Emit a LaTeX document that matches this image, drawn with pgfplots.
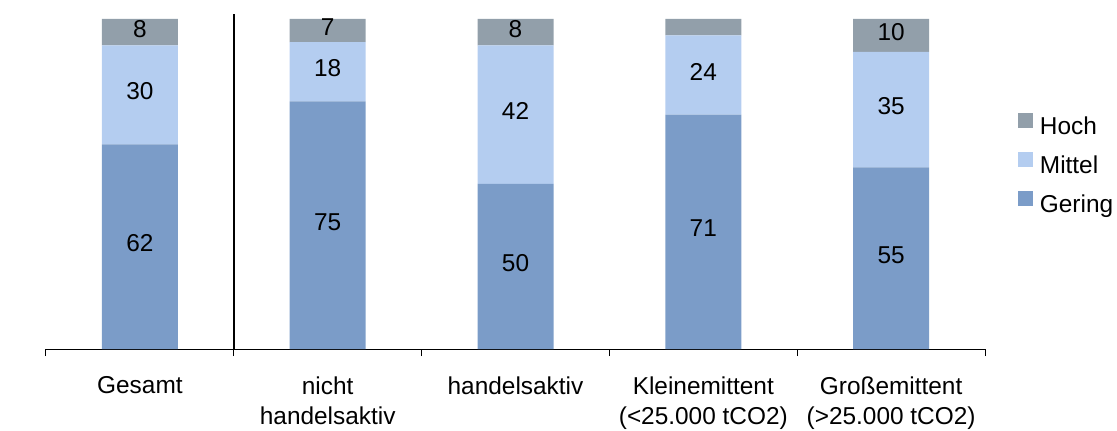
\documentclass[border=0pt]{standalone}
\usepackage{fontspec}
\setmainfont{Liberation Sans}
\usepackage{pgfplots}
\pgfplotsset{compat=1.18}
\definecolor{gering}{HTML}{7B9CC8}
\definecolor{mittel}{HTML}{B4CDF0}
\definecolor{hoch}{HTML}{929FAA}
\newcommand{\chartfont}{\fontsize{18.3}{22.5}\selectfont}
\begin{document}
\begin{tikzpicture}
\useasboundingbox (-34.5pt,-60.75pt) rectangle (803.25pt,261.75pt);
\begin{axis}[
  at={(0pt,0pt)}, anchor=south west,
  scale only axis, width=704.25pt, height=251.25pt,
  ybar stacked, bar width=57pt,
  xmin=-0.5, xmax=4.5, ymin=0, ymax=101.5,
  clip=false,
  axis x line*=bottom, axis y line=none,
  x axis line style={line width=0.75pt, black},
  xtick={0,...,4},
  xticklabels={Gesamt, {nicht\\handelsaktiv}, handelsaktiv, {Kleinemittent\\(<25.000 tCO2)}, {Großemittent\\(>25.000 tCO2)}},
  xticklabel style={align=center, font=\chartfont, text=black, yshift=-17pt},
  major tick length=0pt,
  extra x ticks={-0.5,0.5,1.5,2.5,3.5,4.5},
  extra x tick labels={},
  extra x tick style={major tick length=5.25pt, tick align=outside, tick style={black, line width=0.75pt}},
  ylabel={Anteile in Prozent},
  every axis y label/.style={at={(axis description cs:0,0.487)}, rotate=90, anchor=center, xshift=-17.25pt, font=\chartfont},
  nodes near coords,
  point meta=explicit symbolic,
  nodes near coords style={font=\chartfont, text=black, anchor=center, yshift=2.5pt},
  reverse legend,
  legend cell align=left,
  legend style={draw=none, fill=none, at={(rel axis cs:1,0.546)}, anchor=west, xshift=24.75pt,
    font=\chartfont, row sep=8pt, inner sep=0pt,
    nodes={text height=13.5pt, text depth=4pt, inner sep=1pt},
    /tikz/every odd column/.append style={column sep=4pt}},
  legend image code/.code={\fill[#1] (0pt,0pt) rectangle (11.25pt,11.25pt);},
]
% Anteile je Gruppe: gering, mittel, hoch
\addplot[fill=gering, draw=none] coordinates {(0,62) [62] (1,75) [75] (2,50) [50] (3,71) [71] (4,55) [55]};
\addlegendentry{Gering}
\addplot[fill=mittel, draw=none] coordinates {(0,30) [30] (1,18) [18] (2,42) [42] (3,24) [24] (4,35) [35]};
\addlegendentry{Mittel}
\addplot[fill=hoch, draw=none] coordinates {(0,8) [8] (1,7) [7] (2,8) [8] (3,5) [{}] (4,10) [10]};
\addlegendentry{Hoch}
% Trennlinie zwischen Gesamt und den Teilgruppen
\draw[black, line width=1.1pt] (axis cs:0.5,0) -- (axis cs:0.5,101.5);
\end{axis}
\end{tikzpicture}
\end{document}
